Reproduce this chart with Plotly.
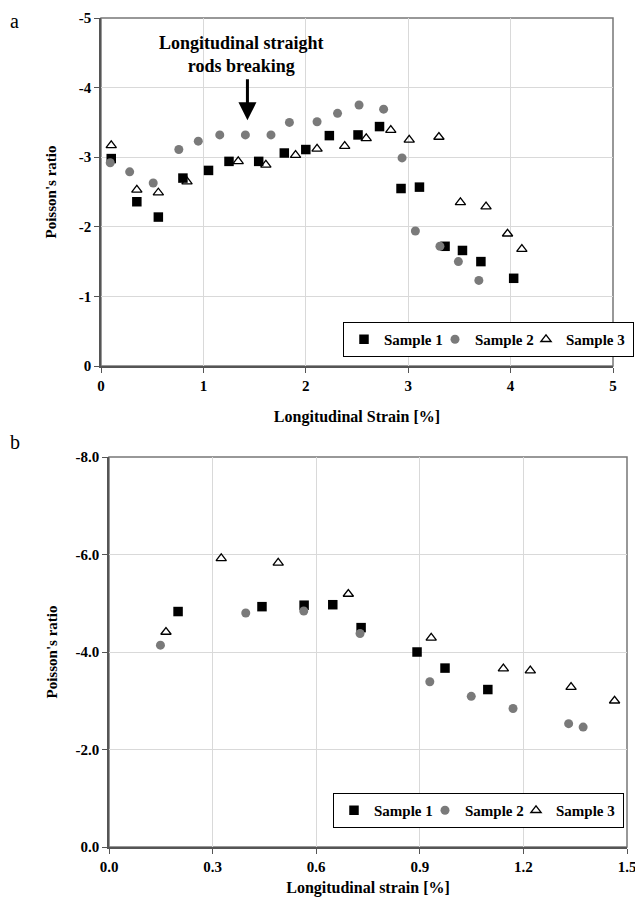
import plotly.graph_objects as go

# ---- Panel a data ----
a_s1_x = [0.10, 0.35, 0.56, 0.80, 1.05, 1.25, 1.54, 1.79, 2.00, 2.23, 2.51, 2.72, 2.93, 3.11, 3.36, 3.53, 3.71, 4.03]
a_s1_y = [-2.98, -2.36, -2.14, -2.70, -2.81, -2.94, -2.94, -3.06, -3.11, -3.31, -3.32, -3.44, -2.55, -2.57, -1.72, -1.66, -1.50, -1.26]
a_s2_x = [0.09, 0.28, 0.51, 0.76, 0.95, 1.16, 1.41, 1.66, 1.84, 2.11, 2.31, 2.52, 2.76, 2.94, 3.07, 3.31, 3.49, 3.69]
a_s2_y = [-2.92, -2.79, -2.63, -3.11, -3.23, -3.32, -3.32, -3.32, -3.50, -3.51, -3.63, -3.75, -3.69, -2.99, -1.94, -1.72, -1.50, -1.23]
a_s3_x = [0.10, 0.35, 0.56, 0.84, 1.34, 1.61, 1.90, 2.11, 2.38, 2.59, 2.83, 3.01, 3.30, 3.51, 3.76, 3.97, 4.11]
a_s3_y = [-3.17, -2.53, -2.49, -2.65, -2.94, -2.89, -3.03, -3.12, -3.16, -3.27, -3.39, -3.25, -3.29, -2.35, -2.29, -1.90, -1.68]

# ---- Panel b data ----
b_s1_x = [0.200, 0.443, 0.565, 0.648, 0.730, 0.892, 0.973, 1.097]
b_s1_y = [-4.83, -4.93, -4.96, -4.97, -4.50, -4.00, -3.67, -3.23]
b_s2_x = [0.149, 0.396, 0.564, 0.727, 0.929, 1.049, 1.170, 1.331, 1.373]
b_s2_y = [-4.14, -4.80, -4.84, -4.38, -3.39, -3.09, -2.84, -2.53, -2.46]
b_s3_x = [0.165, 0.325, 0.490, 0.693, 0.933, 1.142, 1.220, 1.338, 1.464]
b_s3_y = [-4.41, -5.92, -5.83, -5.19, -4.29, -3.66, -3.62, -3.28, -3.00]

a_xticks = [0, 1, 2, 3, 4, 5]
a_yticks = [0, -1, -2, -3, -4, -5]
b_xticks = [0.0, 0.3, 0.6, 0.9, 1.2, 1.5]
b_yticks = [0.0, -2.0, -4.0, -6.0, -8.0]

names = ["Sample 1", "Sample 2", "Sample 3"]
FONT = "Liberation Serif"

# page is 643x897; the html body adds an 8px margin, so the figure is drawn 8px in
OFF = 8
W, H = 643 - OFF, 897 - OFF


def px_x(p):
    return (p - OFF) / W


def px_y(p):
    return 1 - (p - OFF) / H


fig = go.Figure()

styles = [
    dict(symbol="square", color="black", size=9.5, line=dict(width=0)),
    dict(symbol="circle", color="#7a7a7a", size=9, line=dict(width=0)),
    dict(symbol="triangle-up-open", color="black", size=9, line=dict(width=1.3, color="black")),
]
entry_w = [46, 46, 62]

for i, (x, y) in enumerate([(a_s1_x, a_s1_y), (a_s2_x, a_s2_y), (a_s3_x, a_s3_y)]):
    fig.add_trace(go.Scatter(x=x, y=y, mode="markers", name=names[i], marker=styles[i],
                             xaxis="x", yaxis="y", legend="legend", legendwidth=entry_w[i]))
for i, (x, y) in enumerate([(b_s1_x, b_s1_y), (b_s2_x, b_s2_y), (b_s3_x, b_s3_y)]):
    fig.add_trace(go.Scatter(x=x, y=y, mode="markers", name=names[i], marker=styles[i],
                             xaxis="x2", yaxis="y2", legend="legend2", legendwidth=entry_w[i]))

ax_dom = [px_x(101), px_x(613)]
ay_dom = [px_y(366), px_y(18)]
bx_dom = [px_x(109), px_x(627)]
by_dom = [px_y(847), px_y(457)]

tickfont = dict(family=FONT, size=15, color="black", weight="bold")
xtitlefont = dict(family=FONT, size=16, color="black")
ytitlefont = dict(family=FONT, size=15, color="black")
axcommon = dict(showgrid=True, gridcolor="#d9d9d9", gridwidth=1, zeroline=False,
                showline=True, linecolor="#555555", linewidth=1.5, ticks="outside",
                ticklen=5, tickcolor="#555555", tickfont=tickfont, automargin=False)

legcommon = dict(orientation="h", bordercolor="black", borderwidth=1, bgcolor="white",
                 font=dict(family=FONT, size=15, color="black", weight="bold"),
                 itemwidth=30, tracegroupgap=0)

fig.update_layout(
    width=W, height=H, margin=dict(l=0, r=0, t=0, b=0),
    paper_bgcolor="white", plot_bgcolor="white",
    xaxis=dict(domain=ax_dom, range=[0, 5], tickvals=a_xticks,
               ticktext=[str(v) for v in a_xticks], anchor="y",
               title=dict(text="<b>Longitudinal Strain [%]</b>", font=xtitlefont, standoff=18), **axcommon),
    yaxis=dict(domain=ay_dom, range=[0, -5], tickvals=a_yticks,
               ticktext=[str(v) for v in a_yticks], anchor="x",
               title=dict(text="<b>Poisson's ratio</b>", font=ytitlefont, standoff=19), **axcommon),
    xaxis2=dict(domain=bx_dom, range=[0, 1.5], tickvals=b_xticks,
                ticktext=[f"{v:.1f}" for v in b_xticks], anchor="y2",
                title=dict(text="<b>Longitudinal strain [%]</b>", font=xtitlefont, standoff=8), **axcommon),
    yaxis2=dict(domain=by_dom, range=[0, -8], tickvals=b_yticks,
                ticktext=[f"{v:.1f}" for v in b_yticks], anchor="x2",
                title=dict(text="<b>Poisson's ratio</b>", font=ytitlefont, standoff=14), **axcommon),
    legend=dict(x=px_x(634), xanchor="right", y=px_y(322), yanchor="top", **legcommon),
    legend2=dict(x=px_x(624), xanchor="right", y=px_y(793), yanchor="top", **legcommon),
    showlegend=True,
)

# plot frames
fig.add_shape(type="rect", xref="x domain", yref="y domain", x0=0, x1=1, y0=0, y1=1,
              line=dict(color="#777777", width=1.5), layer="below")
fig.add_shape(type="rect", xref="x2 domain", yref="y2 domain", x0=0, x1=1, y0=0, y1=1,
              line=dict(color="#777777", width=1.5), layer="below")

# annotation + arrow
fig.add_annotation(x=1.37, y=-4.47, xref="x", yref="y", showarrow=False,
                   text="<b>Longitudinal straight<br>rods breaking</b>",
                   font=dict(family=FONT, size=18, color="black"), align="center")
fig.add_annotation(x=1.43, y=-3.53, ax=1.43, ay=-4.14, xref="x", yref="y", axref="x", ayref="y",
                   showarrow=True, arrowhead=2, arrowsize=1.2, arrowwidth=3, arrowcolor="black", text="")

# panel labels
fig.add_annotation(x=px_x(14), y=px_y(21), xref="paper", yref="paper", showarrow=False,
                   xanchor="center", yanchor="middle",
                   text="a", font=dict(family=FONT, size=20, color="black"))
fig.add_annotation(x=px_x(15), y=px_y(442), xref="paper", yref="paper", showarrow=False,
                   xanchor="center", yanchor="middle",
                   text="b", font=dict(family=FONT, size=20, color="black"))

fig.write_html("out.html")
